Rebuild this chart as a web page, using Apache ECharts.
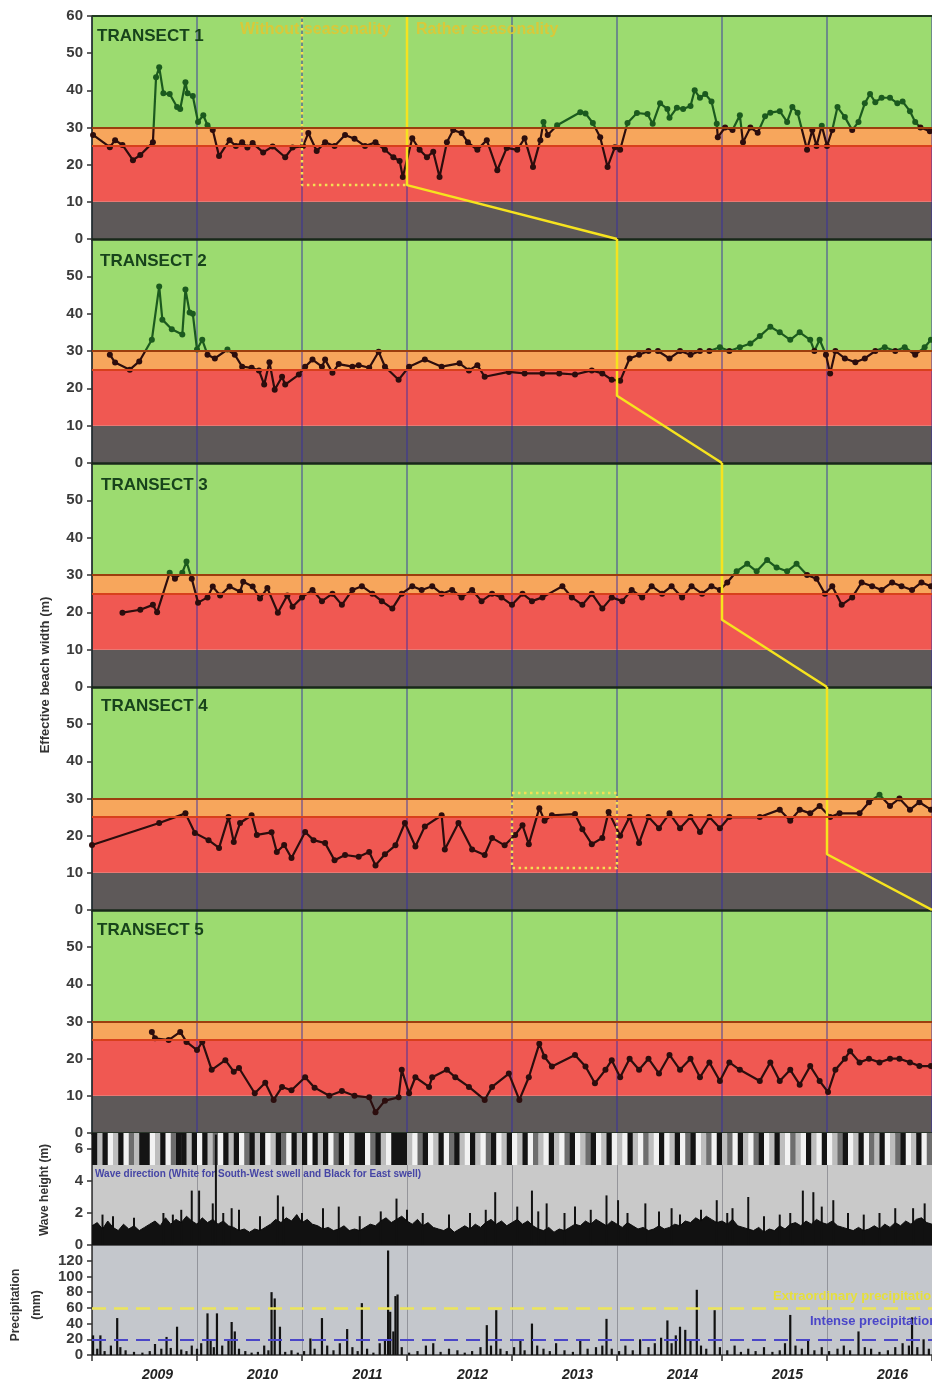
<!DOCTYPE html>
<html><head><meta charset="utf-8">
<script src="https://cdn.jsdelivr.net/npm/echarts@6/dist/echarts.min.js"></script>
<style>html,body{margin:0;padding:0;background:#fff}#c{width:932px;height:1387px}</style>
</head><body><div id="c"></div>
<script>
// ---------- DATA ----------
const years = ['2009','2010','2011','2012','2013','2014','2015','2016'];
const yearTotals = ['471.9mm','868.5mm','916.1mm','383.1mm','455.9mm','677.0mm','383.4mm','459.5mm'];
const totalColors = ['#f0a545','#4ec23c','#4ec23c','#e8363a','#f0a545','#4ec23c','#e8363a','#f0a545'];
const bandEdges = [0,10,25,30,60];
const bandColors = ['#5e5959','#f05852','#f7a65c','#9cdb70'];

const transect1 = [[0.01,28],[0.17,24.7],[0.22,26.6],[0.29,25.3],[0.39,21.2],[0.46,22.6],[0.58,26],[0.61,43.5],[0.64,46.2],[0.68,39.2],[0.74,39],[0.81,35.5],[0.84,35],[0.89,42.2],[0.91,39.2],[0.96,38.5],[1.01,31.5],[1.06,33.3],[1.10,30.6],[1.15,29.3],[1.21,22.3],[1.31,26.6],[1.37,25],[1.43,26],[1.48,24.6],[1.53,25.8],[1.63,23.3],[1.72,24.9],[1.84,22],[1.91,24.6],[2.01,25],[2.06,28.5],[2.14,23.7],[2.22,26],[2.31,25],[2.41,28],[2.50,27],[2.60,25],[2.70,26],[2.79,24],[2.87,22],[2.93,21],[2.96,16.7],[3.05,27.1],[3.12,24],[3.19,22],[3.25,23.5],[3.31,16.7],[3.38,26],[3.44,29.3],[3.52,28.5],[3.58,26],[3.67,24],[3.76,26.6],[3.86,18.5],[3.95,24.5],[4.05,24],[4.12,27.1],[4.20,19.4],[4.27,26.6],[4.30,31.5],[4.34,28],[4.43,30.6],[4.65,34.1],[4.70,33.8],[4.77,31.2],[4.84,27.4],[4.91,19.4],[4.98,24.7],[5.03,24],[5.10,31.2],[5.19,33.9],[5.29,33.6],[5.34,31],[5.41,36.5],[5.48,35],[5.50,32.6],[5.57,35.3],[5.63,35],[5.70,35.8],[5.74,40],[5.79,38],[5.84,39],[5.90,37],[5.95,31],[5.96,27.4],[6.03,30],[6.10,29.3],[6.17,33.3],[6.20,26],[6.27,30],[6.34,28.6],[6.41,33],[6.46,34],[6.55,34.4],[6.62,31.5],[6.67,35.5],[6.72,34],[6.81,24],[6.86,29.3],[6.90,25],[6.95,30.5],[7.00,25],[7.05,29.3],[7.10,35.5],[7.17,32.8],[7.24,29.3],[7.30,31.5],[7.36,36.5],[7.41,39],[7.46,36.8],[7.52,38],[7.60,38],[7.67,36.5],[7.72,37],[7.79,34.4],[7.84,31.5],[7.89,30],[7.98,29]];
const transect2 = [[0.17,29],[0.22,26.9],[0.36,25],[0.45,27.2],[0.57,33],[0.64,47.3],[0.67,38.4],[0.76,35.8],[0.86,34.4],[0.89,46.5],[0.93,40.3],[0.96,40],[1.00,30.4],[1.05,33],[1.10,29],[1.17,28],[1.29,30.4],[1.36,29],[1.43,25.8],[1.52,25.5],[1.59,24.8],[1.64,21],[1.69,27],[1.74,19.6],[1.81,23.1],[1.84,21],[1.97,23.7],[2.03,25.8],[2.10,27.7],[2.19,25.8],[2.22,27.7],[2.29,24.2],[2.35,26.5],[2.48,25.8],[2.54,26.2],[2.64,25.5],[2.73,29.8],[2.79,25.8],[2.92,22.3],[3.02,25.8],[3.17,27.7],[3.33,25.8],[3.50,26.7],[3.59,24.8],[3.67,26.2],[3.74,23.1],[3.97,24.4],[4.12,24],[4.29,24],[4.45,24],[4.60,23.7],[4.76,24.8],[4.86,24],[4.95,22.3],[5.03,22],[5.12,28],[5.21,29],[5.30,30],[5.39,30],[5.50,28],[5.60,30],[5.70,29],[5.79,30],[5.88,30],[5.98,31],[6.07,30],[6.17,31],[6.27,32],[6.36,34],[6.46,36.5],[6.55,35],[6.65,33],[6.74,35],[6.84,33],[6.88,30],[6.93,33],[6.99,29],[7.03,24],[7.08,30],[7.17,28],[7.27,27],[7.36,28],[7.46,30],[7.55,31],[7.65,30],[7.74,31],[7.84,29],[7.93,31],[7.99,33]];
const transect3 = [[0.29,19.9],[0.46,20.7],[0.58,22],[0.62,20],[0.74,30.6],[0.79,29],[0.86,30.6],[0.90,33.6],[0.95,29],[1.01,22.6],[1.10,24],[1.15,26.9],[1.22,24.5],[1.31,26.9],[1.41,25.5],[1.44,28.2],[1.53,26.9],[1.60,23.7],[1.67,26.5],[1.77,19.9],[1.86,24.5],[1.91,21.5],[2.00,24],[2.10,26],[2.19,23],[2.29,25],[2.38,22],[2.48,26],[2.57,27],[2.67,25],[2.76,23],[2.86,21],[2.95,25],[3.05,27],[3.14,26],[3.24,27],[3.33,25],[3.43,26],[3.52,24],[3.62,26],[3.71,23],[3.81,25],[3.90,24],[4.00,22],[4.10,25],[4.19,23],[4.29,24],[4.48,27],[4.57,24],[4.67,22],[4.76,25],[4.86,21],[4.95,24],[5.05,23],[5.14,26],[5.24,24],[5.33,27],[5.43,25],[5.52,27],[5.62,24],[5.71,27],[5.81,25],[5.90,27],[5.98,26],[6.05,28],[6.14,31],[6.24,33],[6.33,31],[6.43,34],[6.52,32],[6.62,31],[6.71,33],[6.81,30],[6.90,29],[6.98,25],[7.05,27],[7.14,22],[7.24,24],[7.33,28],[7.43,27],[7.52,26],[7.62,28],[7.71,27],[7.81,26],[7.90,28],[7.99,27]];
const transect4 = [[0.00,17.5],[0.64,23.4],[0.89,26],[0.98,20.7],[1.11,18.8],[1.21,16.7],[1.30,25],[1.35,18.3],[1.41,23.4],[1.52,25.5],[1.57,20.2],[1.71,20.9],[1.76,15.6],[1.83,17.5],[1.90,14],[2.03,21],[2.11,18.8],[2.22,18],[2.31,13.4],[2.41,14.8],[2.54,14.3],[2.64,15.6],[2.70,12],[2.79,15],[2.89,17.4],[2.98,23.4],[3.08,17.1],[3.17,22.5],[3.33,25.5],[3.36,16.3],[3.49,23.4],[3.62,16.3],[3.74,14.8],[3.81,19.4],[3.93,17.4],[4.03,20.2],[4.10,22.8],[4.16,17.7],[4.26,27.4],[4.31,24],[4.38,25.5],[4.60,25.8],[4.67,21.7],[4.76,17.7],[4.86,19.4],[4.92,26.4],[5.03,20],[5.12,25],[5.21,18],[5.30,25],[5.40,22],[5.50,26],[5.60,22],[5.70,25],[5.79,21],[5.88,25],[5.98,22],[6.07,25],[6.36,25],[6.55,27],[6.65,24],[6.74,27],[6.84,26],[6.93,28],[7.03,25],[7.12,26],[7.31,26],[7.40,29],[7.50,31],[7.60,28],[7.69,30],[7.79,27],[7.88,29],[7.99,27]];
const transect5 = [[0.57,27.2],[0.60,25.5],[0.73,25],[0.84,27.2],[0.90,24.5],[1.00,22.3],[1.05,24.5],[1.14,17],[1.27,19.6],[1.35,16.5],[1.40,17.5],[1.55,10.7],[1.65,13.5],[1.73,8.9],[1.81,12.4],[1.90,11.5],[2.03,15],[2.12,12.2],[2.26,10],[2.38,11.3],[2.50,10],[2.64,9.6],[2.70,5.6],[2.79,8.7],[2.92,9.6],[2.95,17],[3.02,10.7],[3.08,15],[3.21,12.4],[3.24,15],[3.38,17],[3.46,15],[3.59,12.4],[3.74,8.9],[3.81,12.4],[3.97,16],[4.07,8.9],[4.16,15],[4.26,24],[4.31,20.5],[4.38,17.9],[4.60,21],[4.70,17.9],[4.79,13.4],[4.89,17],[4.95,19.6],[5.03,15],[5.12,20],[5.21,17],[5.30,20],[5.40,16],[5.50,21],[5.60,17],[5.70,20],[5.79,15],[5.88,19],[5.98,14],[6.07,19],[6.17,17],[6.36,14],[6.46,19],[6.55,14],[6.65,17],[6.74,13],[6.84,18],[6.93,14],[7.01,11],[7.08,17],[7.17,20],[7.22,22],[7.31,19],[7.40,20],[7.50,19],[7.60,20],[7.69,20],[7.79,19],[7.88,18],[7.99,18]];
const transects = [transect1, transect2, transect3, transect4, transect5];
const transectNames = ['TRANSECT 1','TRANSECT 2','TRANSECT 3','TRANSECT 4','TRANSECT 5'];

const yellowSolid = [
  [[3,60],[3,14.5],[5,0]],
  [[5,60],[5,18],[6,0]],
  [[6,60],[6,18],[7,0]],
  [[7,60],[7,15],[8,0]],
  []
];
const yellowDotted = [
  [[2,60],[2,14.5],[3,14.5]],
  [], [],
  [[4,31.5],[5,31.5],[5,11.3],[4,11.3],[4,31.5]],
  []
];

// wave height: base level sampled every 0.05 year, plus storm spikes
const waveStep = 0.05;
const waveBase = [1.2,1.4,1.0,1.5,1.1,0.9,1.3,1.0,1.2,0.9,1.1,1.3,1.5,1.2,1.7,1.3,1.6,1.4,1.8,1.5,
1.3,1.7,1.4,1.6,1.3,1.5,1.2,1.1,0.9,1.0,0.8,1.0,0.9,1.1,1.3,1.6,1.4,1.7,1.5,1.9,
1.4,1.6,1.3,1.2,1.0,1.1,0.9,1.0,1.2,0.9,1.0,0.9,1.1,1.3,1.2,1.5,1.7,1.4,1.6,1.8,
1.5,1.3,1.6,1.2,1.4,1.1,1.0,0.9,1.1,0.8,1.0,1.2,1.0,1.3,1.1,1.4,1.6,1.3,1.5,1.2,
1.4,1.6,1.3,1.5,1.2,1.0,0.9,1.1,0.8,1.0,0.9,1.1,1.3,1.2,1.5,1.3,1.6,1.4,1.2,1.5,
1.3,1.1,1.4,1.2,1.0,1.1,0.9,1.0,1.2,1.0,1.1,1.3,1.2,1.5,1.4,1.7,1.5,1.8,1.6,1.4,
1.5,1.3,1.6,1.2,1.1,1.0,0.9,1.1,0.8,1.0,0.9,1.2,1.0,1.3,1.4,1.2,1.5,1.3,1.6,1.4,
1.3,1.5,1.2,1.1,1.0,0.9,1.1,0.9,1.0,1.2,1.0,1.3,1.1,1.4,1.2,1.5,1.3,1.6,1.7,1.4,1.3];
const waveSpikes = [[0.10,1.9],[0.20,1.8],[0.40,1.7],[0.68,2.0],[0.77,1.9],[0.85,2.2],[0.95,3.4],[1.02,3.4],[1.15,2.6],[1.18,6.9],[1.25,2.0],[1.33,2.3],[1.40,2.2],[1.60,1.8],[1.77,3.1],[1.82,2.4],[2.00,2.0],[2.20,2.3],[2.35,2.4],[2.55,1.8],[2.75,2.1],[2.90,2.9],[3.00,2.2],[3.15,2.0],[3.40,1.9],[3.60,2.0],[3.75,2.2],[3.84,3.3],[4.05,2.4],[4.19,3.4],[4.25,2.1],[4.33,2.6],[4.50,2.0],[4.60,2.4],[4.75,2.2],[4.90,3.1],[5.01,2.8],[5.10,2.0],[5.27,2.6],[5.40,2.1],[5.52,2.3],[5.60,1.9],[5.80,2.2],[5.95,2.8],[6.05,2.0],[6.10,2.3],[6.25,3.0],[6.40,1.8],[6.55,1.9],[6.65,2.0],[6.77,3.4],[6.87,3.3],[6.95,2.4],[7.06,2.8],[7.20,2.0],[7.35,1.9],[7.50,2.0],[7.65,2.3],[7.82,2.3],[7.93,2.6]];

// wave direction strip: 0 white (SW swell) .. 3 black (E swell), one code per 0.05 year
const dirColors = ['#f2f2f2','#bdbdbd','#6e6e6e','#141414'];
const dirCodes = [3,1,3,0,1,3,0,2,1,3,3,0,1,3,0,2,3,3,1,3,
0,3,1,2,0,3,1,3,0,2,3,1,3,0,1,3,2,0,3,1,
3,0,3,1,3,0,2,3,0,1,3,3,0,2,3,1,0,3,3,3,
1,0,2,3,0,1,3,0,2,3,1,0,3,1,0,2,3,0,1,3,
0,1,3,0,2,1,0,3,1,0,2,3,0,1,2,3,0,1,3,0,
1,0,3,1,0,2,1,0,3,0,1,3,0,2,3,0,1,2,0,3,
1,2,0,3,1,0,2,3,0,1,3,1,0,2,1,0,3,1,0,3,
0,1,2,3,0,1,3,0,2,1,3,0,1,2,3,0,1,3,0,2];

const precip = [[0.01,25],[0.05,8],[0.08,25],[0.12,5],[0.18,12],[0.24,47],[0.27,10],[0.32,6],[0.40,4],[0.48,3],[0.55,5],[0.60,14],[0.66,8],[0.71,23],[0.75,9],[0.81,36],[0.85,7],[0.90,5],[0.95,12],[1.00,8],[1.04,15],[1.10,53],[1.13,18],[1.16,10],[1.19,53],[1.24,12],[1.30,20],[1.33,42],[1.36,30],[1.40,8],[1.46,5],[1.52,3],[1.58,4],[1.64,12],[1.68,6],[1.71,80],[1.74,72],[1.79,36],[1.84,4],[1.90,6],[1.96,3],[2.02,5],[2.08,21],[2.12,8],[2.19,47],[2.24,12],[2.30,6],[2.36,15],[2.43,33],[2.48,10],[2.53,5],[2.57,66],[2.62,8],[2.68,3],[2.74,15],[2.79,20],[2.82,133],[2.84,55],[2.87,30],[2.89,75],[2.91,77],[2.95,10],[3.02,3],[3.10,5],[3.18,12],[3.25,15],[3.32,4],[3.40,8],[3.48,6],[3.55,3],[3.62,5],[3.70,10],[3.76,38],[3.80,12],[3.85,57],[3.89,8],[3.95,5],[4.02,10],[4.08,20],[4.12,6],[4.19,40],[4.24,12],[4.30,8],[4.36,5],[4.42,15],[4.50,6],[4.58,4],[4.65,18],[4.72,8],[4.80,10],[4.86,12],[4.90,46],[4.95,8],[5.02,5],[5.08,12],[5.15,6],[5.22,20],[5.30,10],[5.36,15],[5.42,22],[5.48,44],[5.52,15],[5.56,25],[5.60,36],[5.65,32],[5.70,18],[5.76,83],[5.80,12],[5.85,8],[5.93,57],[5.98,10],[6.05,6],[6.12,12],[6.18,4],[6.25,8],[6.32,5],[6.40,10],[6.48,4],[6.55,6],[6.60,15],[6.65,51],[6.70,12],[6.76,8],[6.82,20],[6.88,6],[6.95,10],[7.02,5],[7.10,8],[7.16,12],[7.22,6],[7.30,30],[7.36,10],[7.42,8],[7.50,4],[7.58,6],[7.65,10],[7.72,15],[7.78,12],[7.81,48],[7.86,10],[7.92,20],[7.97,8]];
const extraordinaryLevel = 60;
const intenseLevel = 20;
const totalsLevel = 108;

// ---------- CHART ----------
const FONT = '"Liberation Sans", Arial, sans-serif';
const gridTops = [16,239,463,687,910,1133,1245];
const gridHeights = [223,224,224,223,223,112,110];
const grid = gridTops.map((t,i)=>({left:92, width:840, top:t, height:gridHeights[i],
  show: i>=5, backgroundColor: i===5 ? '#c9c9c9' : (i===6 ? '#c4c7cc' : 'transparent'), borderWidth:0}));

const xAxis = gridTops.map((t,i)=>({
  gridIndex:i, type:'value', min:0, max:8, interval:1, z:1,
  axisLabel:{show:false},
  axisTick:{show:i===6, inside:false, length:6, lineStyle:{color:'#333', width:1.5}},
  axisLine:{show:true, onZero:false, lineStyle:{color: i<5 ? '#18281a' : '#333', width: i<5 ? 2.5 : 1.5}},
  splitLine:{show:true, lineStyle:{color: i<5 ? 'rgba(55,45,165,0.62)' : 'rgba(105,105,115,0.55)', width: i<5 ? 1.5 : 1}}
}));
xAxis.push({gridIndex:6, type:'category', data:years, position:'bottom', z:1,
  axisLine:{show:false}, axisTick:{show:false}, splitLine:{show:false},
  axisLabel:{fontFamily:FONT, fontStyle:'italic', fontWeight:'bold', fontSize:14, color:'#222', margin:13, padding:[0,0,0,26]}});

const yLabel = {fontFamily:FONT, fontSize:15, fontWeight:'bold', color:'#3a3a3a', margin:9};
const yAxis = [];
for (let i=0;i<5;i++) yAxis.push({gridIndex:i, type:'value', min:0, max:60, interval:10, z:1,
  axisLabel:Object.assign({showMaxLabel:i===0}, yLabel),
  axisTick:{show:true, length:5, lineStyle:{color:'#333', width:1.5}},
  axisLine:{show:true, lineStyle:{color:'#1d2a1d', width:1.5}}, splitLine:{show:false}});
yAxis.push({gridIndex:5, type:'value', min:0, max:7, interval:2, z:1,
  axisLabel:Object.assign({showMaxLabel:false}, yLabel),
  axisTick:{show:true, length:5, lineStyle:{color:'#333', width:1.5}},
  axisLine:{show:true, lineStyle:{color:'#333', width:1.5}}, splitLine:{show:false}});
yAxis.push({gridIndex:6, type:'value', min:0, max:140, interval:20, z:1,
  axisLabel:Object.assign({showMaxLabel:false}, yLabel),
  axisTick:{show:true, length:5, lineStyle:{color:'#333', width:1.5}},
  axisLine:{show:true, lineStyle:{color:'#333', width:1.5}}, splitLine:{show:false}});

const bandData = bandColors.map((c,k)=>[bandEdges[k], bandEdges[k+1], k]);
const series = [];
const visualMap = [];
for (let i=0;i<5;i++){
  series.push({type:'custom', xAxisIndex:i, yAxisIndex:i, z:0, silent:true, data:bandData,
    encode:{y:[0,1]},
    renderItem:(params, api)=>{
      const lo=api.value(0), hi=api.value(1), k=api.value(2);
      const p0=api.coord([0,hi]), p1=api.coord([8,lo]);
      return {type:'rect', shape:{x:p0[0], y:p0[1], width:p1[0]-p0[0], height:p1[1]-p0[1]}, style:{fill:bandColors[k]}};
    },
    markLine:{silent:true, symbol:'none', label:{show:false}, animation:false,
      data: [{yAxis:30, lineStyle:{color:'#9c3e0e', width:2, type:'solid'}},
             {yAxis:25, lineStyle:{color:'#d8401c', width:2, type:'solid'}}].concat(i===0?[{yAxis:60, lineStyle:{color:'#1f3a1f', width:2, type:'solid'}}]:[])}
  });
  visualMap.push({type:'piecewise', show:false, seriesIndex:series.length, dimension:1,
    pieces:[{gt:30, lte:100, color:'#1b5a1e'},{gt:-100, lte:30, color:'#2c0d0d'}]});
  series.push({type:'line', xAxisIndex:i, yAxisIndex:i, z:3, data:transects[i],
    symbol:'circle', symbolSize:6, lineStyle:{width:2.2}, animation:false});
  if (yellowSolid[i].length) series.push({type:'line', xAxisIndex:i, yAxisIndex:i, z:4, silent:true, data:yellowSolid[i],
    symbol:'none', lineStyle:{color:'#f6e31e', width:2.5}, animation:false});
  if (yellowDotted[i].length) series.push({type:'line', xAxisIndex:i, yAxisIndex:i, z:4, silent:true, data:yellowDotted[i],
    symbol:'none', lineStyle:{color:'#f3df55', width:2.5, type:[2.5,3.5]}, animation:false});
}
// wave panel
series.push({type:'custom', xAxisIndex:5, yAxisIndex:5, z:2, silent:true,
  data: dirCodes.map((c,k)=>[k*waveStep, (k+1)*waveStep, c]),
  renderItem:(params, api)=>{
    const p0=api.coord([api.value(0),7]), p1=api.coord([api.value(1),5]);
    return {type:'rect', shape:{x:p0[0], y:p0[1], width:p1[0]-p0[0]+0.5, height:p1[1]-p0[1]}, style:{fill:dirColors[api.value(2)]}};
  }, animation:false});
series.push({type:'line', xAxisIndex:5, yAxisIndex:5, z:3, silent:true,
  data: waveBase.map((v,k)=>[k*waveStep, v]), symbol:'none',
  lineStyle:{color:'#0c0c0c', width:1}, areaStyle:{color:'#111', opacity:1}, animation:false});
series.push({type:'bar', xAxisIndex:5, yAxisIndex:5, z:3, silent:true, data:waveSpikes,
  barWidth:2, itemStyle:{color:'#111'}, animation:false});
// precipitation panel
series.push({type:'bar', xAxisIndex:6, yAxisIndex:6, z:3, silent:true, data:precip,
  barWidth:2.2, itemStyle:{color:'#111'}, animation:false,
  markLine:{silent:true, symbol:'none', label:{show:false}, animation:false,
    data:[{yAxis:extraordinaryLevel, lineStyle:{color:'#ece55a', width:2.5, type:[14,8]}},
          {yAxis:intenseLevel, lineStyle:{color:'#4a46c8', width:2, type:[14,8]}}]}});
series.push({type:'scatter', xAxisIndex:6, yAxisIndex:6, z:4, silent:true, symbolSize:1,
  itemStyle:{opacity:0}, animation:false,
  data: yearTotals.map((s,k)=>({name:s, value:[k+0.5, totalsLevel], label:{color:totalColors[k]}})),
  label:{show:true, position:'inside', formatter:'{b}', fontFamily:FONT, fontWeight:'bold', fontSize:14,
    textBorderColor:'rgba(230,230,230,0.5)', textBorderWidth:2}});

const titles = [];
const tPos = [[97,28],[100,253],[101,477],[101,698],[97,922]];
transectNames.forEach((n,i)=>titles.push({text:n, left:tPos[i][0], top:tPos[i][1], padding:0,
  textStyle:{fontFamily:FONT, fontSize:17, fontWeight:'bold', color:'#17431b'}}));
titles.push({text:'Without seasonality', left:240, top:22, padding:0, textStyle:{fontFamily:FONT, fontSize:16, fontWeight:'bold', color:'#d8c93a'}});
titles.push({text:'Rather seasonality', left:416, top:22, padding:0, textStyle:{fontFamily:FONT, fontSize:16, fontWeight:'bold', color:'#d8c93a'}});
titles.push({text:'Wave direction (White for South-West swell and Black for East swell)', left:95, top:1169, padding:0,
  textStyle:{fontFamily:FONT, fontSize:10, fontWeight:'bold', color:'#4545a5'}});
titles.push({text:'Extraordinary precipitation', left:773, top:1290, padding:0, textStyle:{fontFamily:FONT, fontSize:13, fontWeight:'bold', color:'#e6df3c'}});
titles.push({text:'Intense precipitation', left:810, top:1315, padding:0, textStyle:{fontFamily:FONT, fontSize:13, fontWeight:'bold', color:'#4a46c8'}});

const vText = (txt, x, y, size) => ({type:'text', x:x, y:y, rotation:Math.PI/2, z:10,
  style:{text:txt, fontFamily:FONT, fontSize:size, fontWeight:'bold', fill:'#333', textAlign:'center', textVerticalAlign:'middle'}});

const option = {
  backgroundColor:'#ffffff', animation:false,
  title: titles, grid: grid, xAxis: xAxis, yAxis: yAxis, visualMap: visualMap, series: series,
  graphic: [vText('Effective beach width (m)', 45, 675, 13), vText('Wave height (m)', 45, 1190, 12),
            vText('Precipitation', 16, 1305, 12), vText('(mm)', 37, 1305, 12)]
};
const chart = echarts.init(document.getElementById('c'));
chart.setOption(option);
</script></body></html>
